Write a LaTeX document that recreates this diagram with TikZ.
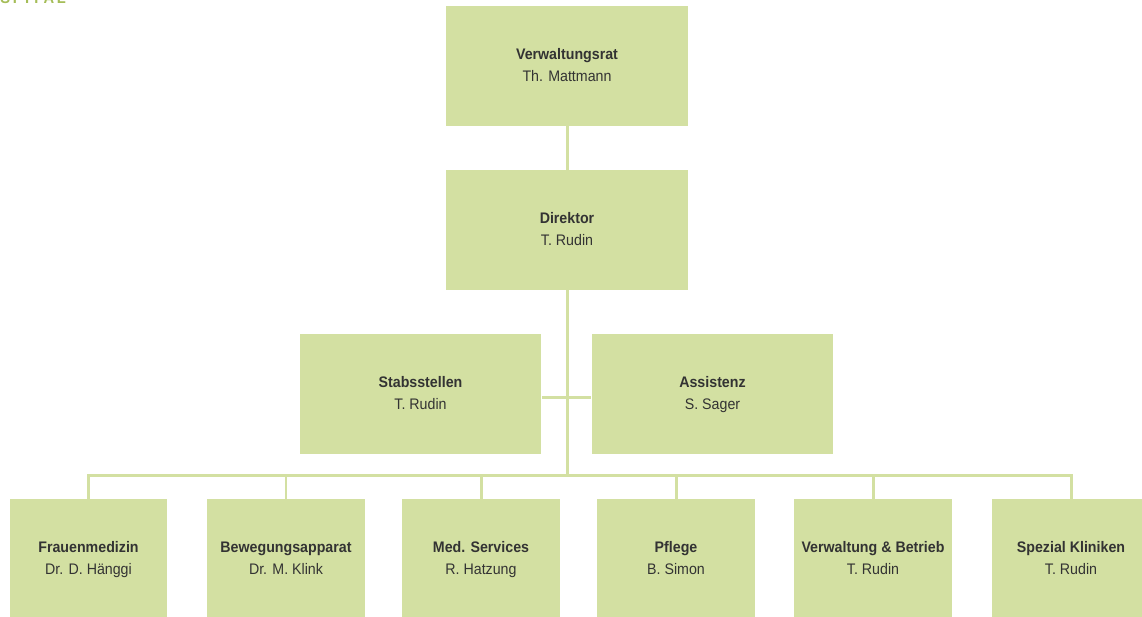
\documentclass[tikz,border=0pt]{standalone}
\usepackage{fontspec}
\setmainfont{Liberation Sans}[FakeStretch=0.93]
\usepackage{tikz}
\definecolor{boxgreen}{HTML}{D3E0A2}
\definecolor{textgray}{HTML}{333333}
\definecolor{logogreen}{HTML}{A5BD58}
\newcommand{\unit}[2]{\textbf{#1}\strut\\#2\strut}

\begin{document}
\begin{tikzpicture}[x=0.02cm, y=-0.02cm,
	box/.style={fill=boxgreen, inner sep=0pt, align=center, text=textgray,
		font=\fontsize{8.7}{12.5}\selectfont},
	bigbox/.style={box, minimum width=4.84cm, minimum height=2.4cm},
	smallbox/.style={box, minimum width=3.16cm, minimum height=2.4cm},
	line/.style={draw=boxgreen, line width=1.7pt}]
	\useasboundingbox (0,0) rectangle (1142,616);
	\clip (0,0) rectangle (1142,616);
	% logo (cut off at the top)
	\node[anchor=base west, inner sep=0pt, text=logogreen,
		font=\fontsize{9}{9}\selectfont\bfseries] (logo) at (0,3) {S\,P\,I\,T\,A\,L};
	% top
	\node[bigbox] (vr) at (567,66) {\unit{Verwaltungsrat}{Th. Mattmann}};
	\node[bigbox] (dir) at (567,230) {\unit{Direktor}{T. Rudin}};
	\node[bigbox] (stab) at (420.5,394) {\unit{Stabsstellen}{T. Rudin}};
	\node[bigbox] (ass) at (712.5,394) {\unit{Assistenz}{S. Sager}};
	% bottom row
	\node[smallbox] (fm) at (88.5,559) {\unit{Frauenmedizin}{Dr. D. Hänggi}};
	\node[smallbox] (ba) at (286,559) {\unit{Bewegungsapparat}{Dr. M. Klink}};
	\node[smallbox] (ms) at (481,559) {\unit{Med. Services}{R. Hatzung}};
	\node[smallbox] (pf) at (676,559) {\unit{Pflege}{B. Simon}};
	\node[smallbox] (vb) at (873,559) {\unit{Verwaltung \& Betrieb}{T. Rudin}};
	\node[smallbox] (sk) at (1071,559) {\unit{Spezial Kliniken}{T. Rudin}};
	\coordinate (mid) at (567,397);
	\coordinate (bus) at (567,475);
	% lines
	\draw[line] (vr) -- (dir);
	\draw[line] (dir) -- (bus);
	\draw[line] (stab.east |- mid) -- (ass.west |- mid);
	\draw[line] (fm.north) |- (bus) -| (sk.north);
	\foreach \n in {ba,ms,pf,vb}
		\draw[line] (\n.north) -- (\n.north |- bus);
\end{tikzpicture}
\end{document}
